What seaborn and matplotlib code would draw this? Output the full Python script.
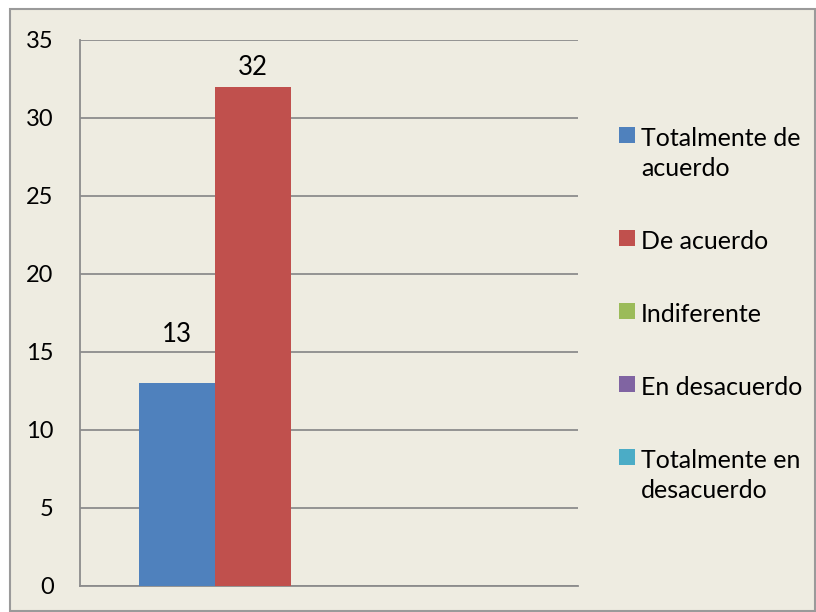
import pandas as pd
import seaborn as sns
import matplotlib.pyplot as plt
from matplotlib.patches import Rectangle, Patch

# data
respuestas = ["Totalmente de\nacuerdo", "De acuerdo", "Indiferente", "En desacuerdo", "Totalmente en\ndesacuerdo"]
valores = [13, 32, 0, 0, 0]
colores = ["#4F81BD", "#C0504D", "#9BBB59", "#8064A2", "#4BACC6"]
y_ticks = [0, 5, 10, 15, 20, 25, 30, 35]

bg = "#EEECE1"
grid_c = "#8C8C8C"
fs = 17

sns.set_theme(style="white")
plt.rcParams["font.family"] = ["Lato", "DejaVu Sans"]

df = pd.DataFrame({"grupo": [""] * len(respuestas), "respuesta": respuestas, "valor": valores})

fig = plt.figure(figsize=(8.16, 6.12), dpi=100, facecolor="white")
fig.patches.append(Rectangle((10 / 816, 1 / 612), 805 / 816, 602 / 612, transform=fig.transFigure,
                             facecolor=bg, edgecolor="#9A9A9A", linewidth=1.5, zorder=-5))
ax = fig.add_axes([80 / 816, 26 / 612, 498 / 816, 546 / 612])
ax.set_facecolor("none")

sns.barplot(data=df, x="grupo", y="valor", hue="respuesta", palette=colores, hue_order=respuestas,
            width=0.763, saturation=1, linewidth=0, ax=ax, zorder=3)
ax.get_legend().remove()

# the label over the short bar sits higher in the original
pads = [26, 5, 0, 0, 0]
for cont, v, p in zip(ax.containers, valores, pads):
    if v > 0:
        ax.bar_label(cont, fontsize=18.5, padding=p, color="black")

ax.set_xlim(-0.5, 0.5)
ax.set_ylim(0, 35)
ax.set_yticks(y_ticks)
ax.tick_params(axis="y", length=0, pad=19, labelsize=fs, labelcolor="black")
ax.set_xticks([])
ax.set_xlabel("")
ax.set_ylabel("")
ax.grid(axis="y", color=grid_c, linewidth=1.3, zorder=0)
ax.set_axisbelow(True)
for s in ["top", "right"]:
    ax.spines[s].set_visible(False)
for s in ["left", "bottom"]:
    ax.spines[s].set_color(grid_c)
    ax.spines[s].set_linewidth(1.3)

handles = [Patch(facecolor=c, edgecolor="none") for c in colores]
leg = fig.legend(handles, respuestas, loc="upper left", bbox_to_anchor=(606 / 816, 1 - 114 / 612),
                 frameon=False, fontsize=18, handlelength=0.65, handleheight=0.65, handletextpad=0.25,
                 labelspacing=2.0, borderpad=0)
for t in leg.get_texts():
    t.set_linespacing(1.37)
    t.set_color("black")
# put each square next to the first line of its label
for col in leg._legend_handle_box.get_children():
    for row in col.get_children():
        row.align = "top"

fig.savefig("out.png", dpi=100, facecolor="white")
